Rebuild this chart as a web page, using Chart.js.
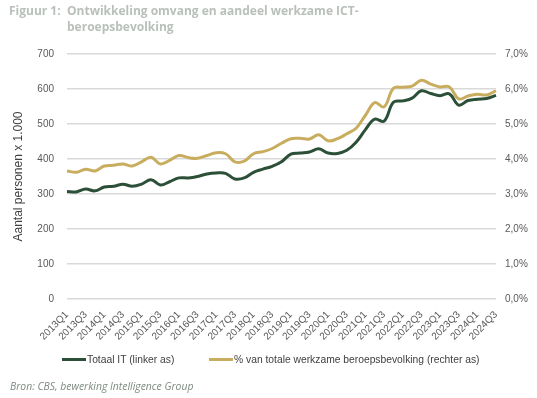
<!DOCTYPE html>
<html><head><meta charset="utf-8">
<script src="https://cdn.jsdelivr.net/npm/chart.js@4"></script>
<style>
body{margin:0;width:537px;height:398px;background:#fff;position:relative;overflow:hidden;font-family:"Liberation Sans",Arial,sans-serif}
canvas{position:absolute;left:0;top:0}
.t{position:absolute;font-family:"Open Sans",sans-serif;font-weight:700;color:#b9c0b9;font-size:12px;line-height:16px;white-space:nowrap}
.leg{position:absolute;top:353px;font-size:10.3px;color:#404040;white-space:nowrap;line-height:14px}
.leg span.l{display:inline-block;width:24px;height:3px;vertical-align:middle;margin-right:1px;position:relative;top:-1px}
.src{position:absolute;left:10px;top:379px;font-family:"Open Sans",sans-serif;font-style:italic;font-size:10.4px;color:#7d8a80;white-space:nowrap}
</style></head>
<body>
<canvas id="c" width="537" height="398"></canvas>
<div class="t" style="left:9px;top:3px">Figuur 1:</div>
<div class="t" style="left:67px;top:3px">Ontwikkeling omvang en aandeel werkzame ICT-<br>beroepsbevolking</div>
<div class="leg" style="left:62px"><span class="l" style="background:#2c4f38"></span>Totaal IT (linker as)</div>
<div class="leg" style="left:209px"><span class="l" style="background:#c9ad5f"></span>% van totale werkzame beroepsbevolking (rechter as)</div>
<div class="src">Bron: CBS, bewerking Intelligence Group</div>
<script>
const quarters = [];
for (let y = 2013; y <= 2024; y++) for (let q = 1; q <= 4; q++) { if (y === 2024 && q > 3) break; quarters.push(y + 'Q' + q); }

const totaalIT = [307,306,314,309,320,322,328,322,328,341,326,335,346,346,350,357,360,359,343,346,362,371,379,392,414,417,420,429,417,416,425,448,484,514,508,562,566,574,595,587,581,586,554,567,571,573,582];
const aandeelPct = [3.66,3.62,3.71,3.66,3.80,3.82,3.86,3.80,3.92,4.05,3.86,3.96,4.10,4.04,4.02,4.10,4.18,4.15,3.92,3.94,4.15,4.21,4.30,4.45,4.58,4.59,4.57,4.69,4.52,4.58,4.72,4.88,5.25,5.61,5.49,6.02,6.05,6.08,6.25,6.14,6.06,6.06,5.72,5.80,5.85,5.83,5.95];

const leftTicks = [0,100,200,300,400,500,600,700];
const rightTicks = [0,1,2,3,4,5,6,7];

const tickFont = {family:'"Liberation Sans", Arial, sans-serif', size:10};
new Chart(document.getElementById('c'), {
  type:'line',
  data:{labels:quarters, datasets:[
    {label:'Totaal IT (linker as)', data:totaalIT, yAxisID:'y', borderColor:'#2c4f38', borderWidth:3, pointRadius:0, tension:0.4, fill:false},
    {label:'% van totale werkzame beroepsbevolking (rechter as)', data:aandeelPct, yAxisID:'y1', borderColor:'#c9ad5f', borderWidth:3, pointRadius:0, tension:0.4, fill:false}
  ]},
  options:{
    responsive:false, animation:false, devicePixelRatio:1,
    layout:{padding:{top:54,left:11,right:0,bottom:0}},
    plugins:{legend:{display:false}, title:{display:false}, tooltip:{enabled:false}},
    scales:{
      x:{grid:{display:false}, border:{display:false},
         ticks:{autoSkip:false, maxRotation:45, minRotation:45, color:'#595959', font:tickFont, padding:2,
           callback:(v,i)=> i%2===0 ? quarters[i] : ''},
         afterFit:s=>{s.height=99;}},
      y:{position:'left', min:0, max:700, afterBuildTicks:s=>{s.ticks=leftTicks.map(v=>({value:v}));},
         grid:{color:'#d9d9d9', lineWidth:1.5, drawTicks:false}, border:{display:false},
         ticks:{color:'#595959', font:tickFont, padding:13},
         title:{display:true, text:'Aantal personen x 1.000', color:'#404040', font:{family:'"Liberation Sans", Arial, sans-serif', size:12}, padding:{top:0,bottom:4}},
         afterFit:s=>{s.width=56;}},
      y1:{position:'right', min:0, max:7, afterBuildTicks:s=>{s.ticks=rightTicks.map(v=>({value:v}));},
         grid:{drawOnChartArea:false, drawTicks:false}, border:{display:false},
         ticks:{color:'#595959', font:tickFont, padding:9, callback:v=>v.toFixed(1).replace('.',',')+'%'},
         afterFit:s=>{s.width=41;}}
    }
  }
});
</script>
</body></html>
